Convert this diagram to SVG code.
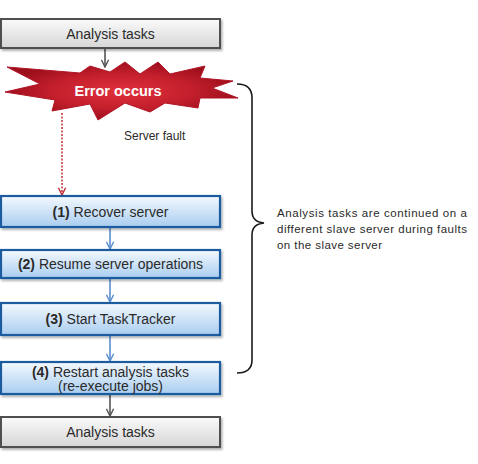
<svg xmlns="http://www.w3.org/2000/svg" width="478" height="464" viewBox="0 0 478 464">
<defs>
<linearGradient id="gray" x1="0" y1="0" x2="0" y2="1"><stop offset="0" stop-color="#fafafa"/><stop offset="1" stop-color="#d6d6d6"/></linearGradient>
<linearGradient id="blue" x1="0" y1="0" x2="0" y2="1"><stop offset="0" stop-color="#f4f9fe"/><stop offset="1" stop-color="#a9cdf0"/></linearGradient>
<radialGradient id="red" cx="0.5" cy="0.5" r="0.5"><stop offset="0" stop-color="#e0303c"/><stop offset="0.6" stop-color="#c41f2c"/><stop offset="1" stop-color="#9e0f1c"/></radialGradient>
<marker id="ag" viewBox="0 0 10 10" refX="9" refY="5" markerWidth="9" markerHeight="9" markerUnits="userSpaceOnUse" orient="auto"><path d="M1,1 L9,5 L1,9" fill="none" stroke="#555" stroke-width="1.6"/></marker>
<marker id="ab" viewBox="0 0 10 10" refX="9" refY="5" markerWidth="9" markerHeight="9" markerUnits="userSpaceOnUse" orient="auto"><path d="M1,1 L9,5 L1,9" fill="none" stroke="#5b8fd0" stroke-width="1.6"/></marker>
<marker id="ar" viewBox="0 0 10 10" refX="9" refY="5" markerWidth="9" markerHeight="9" markerUnits="userSpaceOnUse" orient="auto"><path d="M1,1 L9,5 L1,9" fill="none" stroke="#c0303a" stroke-width="1.6"/></marker>
<filter id="sh" x="-5%" y="-20%" width="110%" height="150%"><feDropShadow dx="1.5" dy="2" stdDeviation="1.2" flood-color="#000" flood-opacity="0.3"/></filter>
</defs>
<style>
.gbox{fill:url(#gray);stroke:#505050;stroke-width:2}
.bbox{fill:url(#blue);stroke:#1f5b9e;stroke-width:2.2}
text{font-family:"Liberation Sans",Arial,sans-serif;fill:#2a2a2a}
.t{font-size:14px;text-anchor:middle}
.b{font-weight:bold}
.note{font-size:11.5px}
</style>
<g id="connectors">
<line x1="105" y1="48" x2="105" y2="67" stroke="#555" stroke-width="1.6" marker-end="url(#ag)"/>
<line x1="62" y1="113" x2="62" y2="195" stroke="#c0303a" stroke-width="1.5" stroke-dasharray="2,1.5" marker-end="url(#ar)"/>
<line x1="110" y1="227" x2="110" y2="249" stroke="#5b8fd0" stroke-width="1.6" marker-end="url(#ab)"/>
<line x1="110" y1="278" x2="110" y2="302" stroke="#5b8fd0" stroke-width="1.6" marker-end="url(#ab)"/>
<line x1="110" y1="335" x2="110" y2="361" stroke="#5b8fd0" stroke-width="1.6" marker-end="url(#ab)"/>
<line x1="110" y1="394" x2="110" y2="416" stroke="#555" stroke-width="1.6" marker-end="url(#ag)"/>
</g>
<g id="start">
<rect class="gbox" x="1" y="19" width="219" height="29" filter="url(#sh)"/>
<text class="t" x="110.5" y="39">Analysis tasks</text>
</g>
<g id="error">
<polygon points="7,67 80,73 90,66 110,72 125,62 140,74 158,62 170,74 205,66 200,78 233,81 212,88 238,98 200,98 198,108 165,103 150,112 125,103 98,120 90,104 52,111 55,100 5,92 40,84" fill="url(#red)" stroke="#b01525" stroke-width="1" stroke-linejoin="miter"/>
<text class="t b" x="118" y="95.5" style="fill:#ffffff;font-size:14.5px">Error occurs</text>
</g>
<g id="fault-label">
<text x="124" y="140" style="font-size:12px">Server  fault</text>
</g>
<g id="step1">
<rect class="bbox" x="1" y="196" width="219" height="31" filter="url(#sh)"/>
<text class="t" x="110.5" y="216.5"><tspan class="b">(1)</tspan> Recover server</text>
</g>
<g id="step2">
<rect class="bbox" x="1" y="250" width="219" height="28" filter="url(#sh)"/>
<text class="t" x="110.5" y="269"><tspan class="b">(2)</tspan> Resume server operations</text>
</g>
<g id="step3">
<rect class="bbox" x="1" y="303" width="219" height="32" filter="url(#sh)"/>
<text class="t" x="110.5" y="324"><tspan class="b">(3)</tspan> Start TaskTracker</text>
</g>
<g id="step4">
<rect class="bbox" x="1" y="362" width="219" height="32" filter="url(#sh)"/>
<text class="t" x="110.5" y="376.5"><tspan class="b">(4)</tspan> Restart analysis tasks</text>
<text class="t" x="110.5" y="391">(re-execute jobs)</text>
</g>
<g id="end">
<rect class="gbox" x="1" y="417" width="219" height="30" filter="url(#sh)"/>
<text class="t" x="110.5" y="437">Analysis tasks</text>
</g>
<g id="brace">
<path d="M237,84 Q252,84 252,98 L252,211 Q252,222 264,223 Q252,224 252,235 L252,360 Q252,373 237,373" fill="none" stroke="#1a1a1a" stroke-width="1.6"/>
<text class="note" x="277" y="217" textLength="190" lengthAdjust="spacing">Analysis tasks are continued on a</text>
<text class="note" x="277" y="233" textLength="190" lengthAdjust="spacing">different slave server during faults</text>
<text class="note" x="277" y="249" textLength="105" lengthAdjust="spacing">on the slave server</text>
</g>
</svg>
